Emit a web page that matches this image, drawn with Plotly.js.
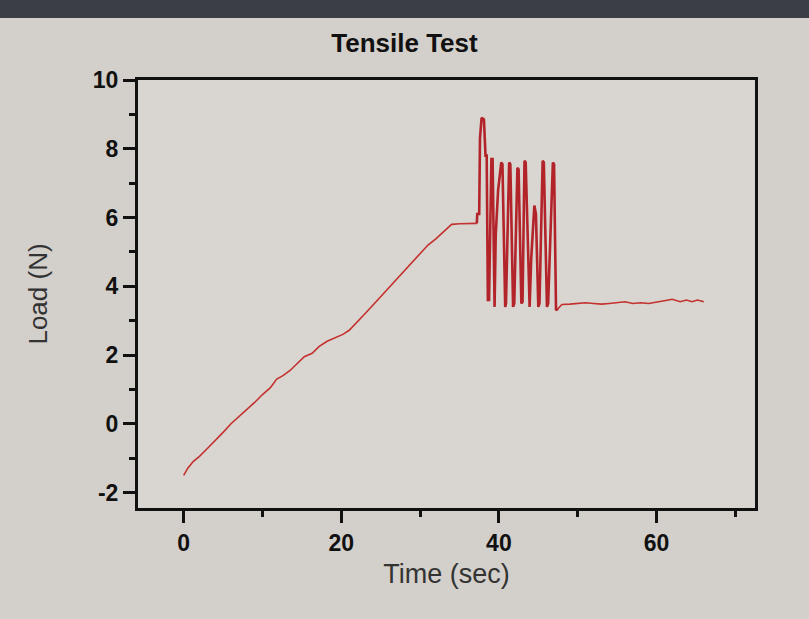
<!DOCTYPE html>
<html>
<head>
<meta charset="utf-8">
<script src="https://cdn.plot.ly/plotly-3.0.1.min.js"></script>
<style>html,body{margin:0;padding:0;background:#d3cfca;}#chart{width:809px;height:619px;}</style>
</head>
<body>
<div id="chart"></div>
<script>
// Ramp section: Time (sec) / Load (N)
const rampTime = [
  0, 0.5, 1.2, 2, 3, 4, 5, 6, 7, 8, 9, 10, 11, 11.8, 12.6, 13.5, 14.5, 15.3, 16.3, 17.2,
  18.2, 19.2, 20.2, 21, 22, 23, 24, 25, 26, 27, 28, 29, 30, 31, 32, 33, 34, 35, 36, 37.2
];
const rampLoad = [
  -1.5, -1.3, -1.1, -0.95, -0.72, -0.5, -0.25, 0.0, 0.2, 0.4, 0.62, 0.85, 1.05, 1.3, 1.4, 1.55, 1.78, 1.95, 2.05, 2.25,
  2.4, 2.5, 2.6, 2.72, 2.95, 3.2, 3.45, 3.7, 3.95, 4.2, 4.45, 4.7, 4.95, 5.2, 5.38, 5.6, 5.8, 5.82, 5.82, 5.83
];
// Oscillation section
const oscTime = [
  37.2, 37.25, 37.5, 37.6, 37.8, 38.1, 38.3, 38.45, 38.6, 38.75, 39.05, 39.2, 39.45, 39.6, 39.9, 40.3, 40.45,
  40.8, 40.9, 41.3, 41.45, 41.8, 41.95, 42.35, 42.5, 42.85, 43.0, 43.25, 43.4, 43.9, 44.1, 44.5, 44.7,
  45.0, 45.15, 45.55, 45.7, 46.1, 46.25, 46.85, 47.0, 47.25, 47.5
];
const oscLoad = [
  5.83, 6.1, 6.1, 8.3, 8.9, 8.85, 7.8, 7.8, 3.6, 3.6, 7.7, 7.7, 3.4, 5.5, 6.8, 7.6, 7.55,
  3.4, 3.5, 7.6, 7.55, 3.4, 3.5, 7.45, 7.4, 3.5, 3.55, 7.65, 7.6, 3.4, 4.8, 6.35, 6.1,
  3.4, 3.5, 7.65, 7.6, 3.4, 3.5, 7.6, 7.55, 3.3, 3.35
];
// Plateau after break
const plateauTime = [47.5, 48, 49, 50, 51, 52, 53, 54, 55, 56, 57, 58, 59, 60, 61, 62, 63, 63.8, 64.5, 65.2, 66];
const plateauLoad = [3.35, 3.47, 3.48, 3.5, 3.52, 3.5, 3.48, 3.5, 3.53, 3.55, 3.5, 3.52, 3.5, 3.55, 3.58, 3.62, 3.55, 3.6, 3.55, 3.6, 3.55];

const xTickVals = [0, 20, 40, 60];
const xMinorVals = [10, 30, 50, 70];
const yTickVals = [-2, 0, 2, 4, 6, 8, 10];
const yMinorVals = [-1, 1, 3, 5, 7, 9];

const traces = [
  {x: rampTime, y: rampLoad, type: 'scatter', mode: 'lines', line: {color: '#c4302e', width: 1.6}, hoverinfo: 'skip'},
  {x: oscTime, y: oscLoad, type: 'scatter', mode: 'lines', line: {color: '#b3232a', width: 2.6}, hoverinfo: 'skip'},
  {x: plateauTime, y: plateauLoad, type: 'scatter', mode: 'lines', line: {color: '#c4302e', width: 1.6}, hoverinfo: 'skip'}
];

const tickFont = {family: 'Liberation Sans, Arial, sans-serif', size: 23, color: '#111', weight: 'bold'};
const layout = {
  width: 809, height: 619,
  paper_bgcolor: '#d3cfca', plot_bgcolor: '#d9d6d1',
  margin: {l: 138, r: 54, t: 80, b: 111},
  showlegend: false,
  title: {text: 'Tensile Test', x: 0.5, xanchor: 'center', y: 0.93, yanchor: 'middle',
          font: {family: 'Liberation Sans, Arial, sans-serif', size: 26, color: '#111', weight: 'bold'}},
  xaxis: {
    range: [-5.8, 72.5], tickvals: xTickVals, ticktext: xTickVals.map(String),
    ticks: 'outside', ticklen: 12, tickwidth: 3, tickcolor: '#111',
    minor: {tickvals: xMinorVals, ticks: 'outside', ticklen: 6, tickwidth: 3, tickcolor: '#111'},
    showline: true, linewidth: 3, linecolor: '#111', mirror: true,
    showgrid: false, zeroline: false, tickfont: tickFont,
    title: {text: 'Time (sec)', standoff: 10, font: {family: 'Liberation Sans, Arial, sans-serif', size: 27, color: '#333'}}
  },
  yaxis: {
    range: [-2.45, 10], tickvals: yTickVals, ticktext: yTickVals.map(String),
    ticks: 'outside', ticklen: 12, tickwidth: 3, tickcolor: '#111',
    minor: {tickvals: yMinorVals, ticks: 'outside', ticklen: 6, tickwidth: 3, tickcolor: '#111'},
    showline: true, linewidth: 3, linecolor: '#111', mirror: true,
    showgrid: false, zeroline: false, tickfont: tickFont,
    title: {text: 'Load (N)', standoff: 38, font: {family: 'Liberation Sans, Arial, sans-serif', size: 26, color: '#333'}}
  },
  shapes: [
    {type: 'rect', xref: 'paper', yref: 'paper', x0: -0.3, x1: 1.2, y0: 1.145, y1: 1.25,
     fillcolor: '#3b3e46', line: {width: 0}, layer: 'above'}
  ]
};

Plotly.newPlot('chart', traces, layout, {displayModeBar: false, staticPlot: true});
</script>
</body>
</html>
